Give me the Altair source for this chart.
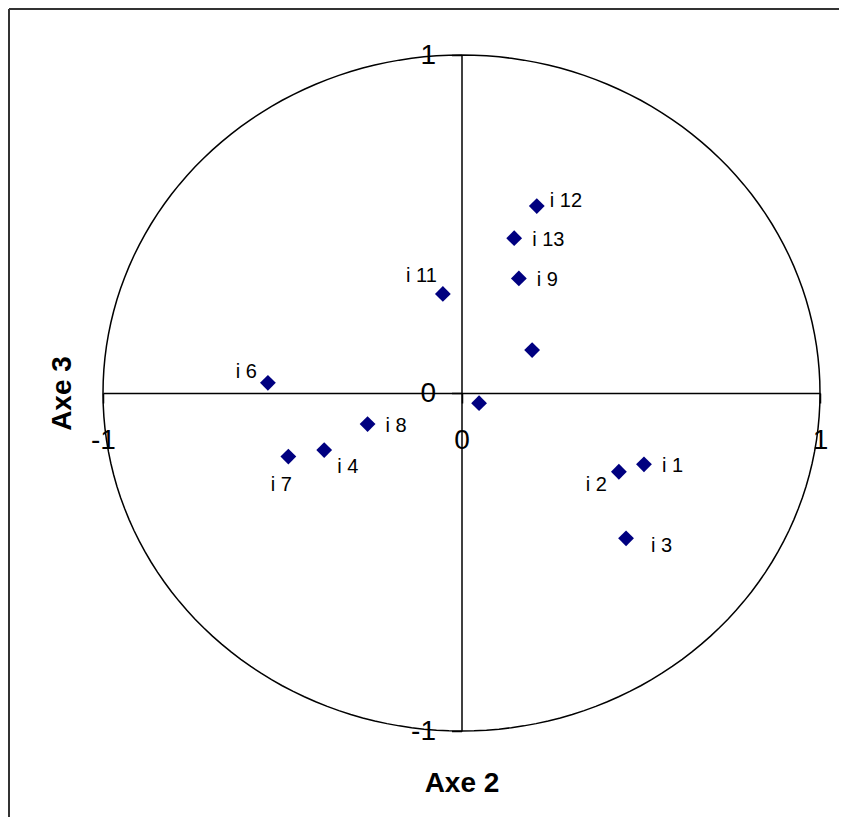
import altair as alt
import pandas as pd

# ---- data ----
labels = ["i 1", "i 2", "i 3", "i 4", "", "i 6", "i 7", "i 8", "i 9", "", "i 11", "i 12", "i 13"]
axe2 = [0.509, 0.439, 0.459, -0.383, 0.049, -0.540, -0.483, -0.262, 0.160, 0.197, -0.052, 0.210, 0.147]
axe3 = [-0.211, -0.233, -0.430, -0.169, -0.030, 0.030, -0.188, -0.092, 0.339, 0.127, 0.293, 0.553, 0.458]
label_side = ["e", "sw", "se", "sse", "e", "nw", "s", "e", "e", "e", "nnw", "ne", "e"]
tick_values = [-1, 0, 1]

FONT = "Liberation Sans"

df = pd.DataFrame({"x": axe2, "y": axe3, "label": labels, "side": label_side})

W, H = 717, 676

x_axis = alt.Axis(
    orient="bottom", offset=-H / 2, values=tick_values, grid=False,
    domainColor="black", domainWidth=1.5, tickColor="black", tickWidth=1.5, tickSize=10,
    labelFont=FONT, labelFontSize=28, labelColor="black", labelPadding=23,
    labelFlush=False, labelOverlap=False, labelExpr="toString(datum.value)",
    title="Axe 2", titleFont=FONT, titleFontSize=28, titleFontWeight="bold", titleColor="black",
    titleX=W / 2, titleY=390, titleAlign="center", titleBaseline="middle",
)
y_axis = alt.Axis(
    orient="left", offset=-W / 2, values=tick_values, grid=False,
    domainColor="black", domainWidth=1.5, tickColor="black", tickWidth=1.5, tickSize=10,
    labelFont=FONT, labelFontSize=28, labelColor="black", labelPadding=16,
    labelFlush=False, labelOverlap=False, labelExpr="toString(datum.value)",
    title="Axe 3", titleFont=FONT, titleFontSize=28, titleFontWeight="bold", titleColor="black",
    titleX=-399, titleY=H / 2, titleAngle=270, titleAlign="center", titleBaseline="middle",
)

xs = alt.Scale(domain=[-1, 1], nice=False, zero=False)
ys = alt.Scale(domain=[-1, 1], nice=False, zero=False)


def X():
    return alt.X("x:Q", scale=xs, axis=x_axis)


def Y():
    return alt.Y("y:Q", scale=ys, axis=y_axis)


one = pd.DataFrame({"a": [0]})

# outer frame (only its left and top edges fall inside the window)
frame_left = alt.Chart(one).mark_rule(color="#333333", strokeWidth=2).encode(
    x=alt.value(-94), y=alt.value(-46), y2=alt.value(H + 200)
)
frame_top = alt.Chart(one).mark_rule(color="#333333", strokeWidth=2).encode(
    x=alt.value(-94), x2=alt.value(W + 200), y=alt.value(-46)
)

# unit circle (correlation circle)
circle = alt.Chart(alt.sequence(0, 362, 2, as_="t")).transform_calculate(
    x="cos(datum.t * PI / 180)", y="sin(datum.t * PI / 180)"
).mark_line(color="black", strokeWidth=1.5).encode(
    x=X(), y=Y(), order="t:Q"
)

points = alt.Chart(df).mark_point(
    shape="diamond", filled=True, size=250, color="#000080", opacity=1
).encode(x=X(), y=Y())

side_style = {
    "e": ("left", 18, 2),
    "ne": ("left", 13, -5),
    "se": ("left", 25, 8),
    "sse": ("left", 13, 17),
    "s": ("center", -7, 28),
    "sw": ("right", -12, 13),
    "nw": ("right", -11, -11),
    "nnw": ("right", -6, -18),
}

text_layers = []
for side, (align, dx, dy) in side_style.items():
    text_layers.append(
        alt.Chart(df).transform_filter(alt.datum.side == side).mark_text(
            align=align, baseline="middle", dx=dx, dy=dy,
            font=FONT, fontSize=20, color="black"
        ).encode(x=X(), y=Y(), text="label:N")
    )

chart = alt.layer(frame_left, frame_top, circle, points, *text_layers).properties(
    width=W, height=H,
    background="white",
    padding={"left": 95, "top": 47, "right": 19, "bottom": 86},
    autosize=alt.AutoSizeParams(type="none"),
).configure_view(strokeWidth=0, stroke="transparent")

chart.save("out.html", embed_options={"renderer": "svg", "actions": False})
